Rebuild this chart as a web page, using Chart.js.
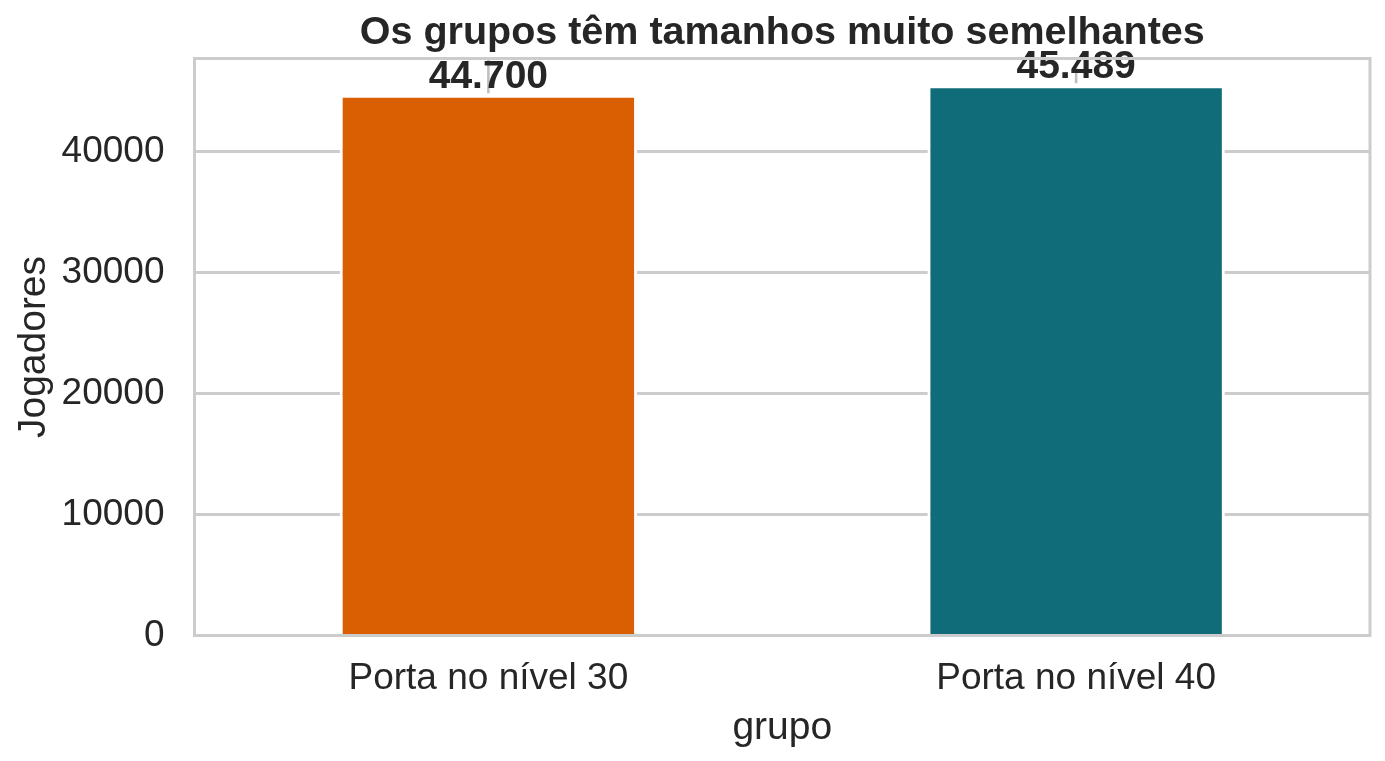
<!DOCTYPE html>
<html>
<head>
<meta charset="utf-8">
<script src="https://cdn.jsdelivr.net/npm/chart.js@4.4.1/dist/chart.umd.min.js"></script>
<style>
  html, body { margin: 0; padding: 0; background: #fff; }
  #wrap { width: 1385px; height: 761px; }
</style>
</head>
<body>
<div id="wrap"><canvas id="myChart"></canvas></div>
<script>
// data
const grupos = ['Porta no nível 30', 'Porta no nível 40'];
const jogadores = [44700, 45489];
const errLow = [44830, 45660];
const errHigh = [48000, 47310];
const yTicks = [0, 10000, 20000, 30000, 40000];
const cores = ['#d95f02', '#116c7a'];
const titulo = 'Os grupos têm tamanhos muito semelhantes';

const ink = '#262626';
const cinza = '#cccccc';
const fonte = '"Liberation Sans", Arial, sans-serif';

// pt-BR thousands: 44700 -> 44.700
function milhar(v) {
  return String(Math.round(v)).replace(/\B(?=(\d{3})+(?!\d))/g, '.');
}

// grey error line + value label above each bar
const rotulos = {
  id: 'rotulos',
  afterDatasetsDraw(chart) {
    const ctx = chart.ctx;
    const meta = chart.getDatasetMeta(0);
    const y = chart.scales.y;
    const area = chart.chartArea;
    ctx.save();
    ctx.beginPath();
    ctx.rect(area.left, area.top, area.right - area.left, area.bottom - area.top);
    ctx.clip();
    ctx.strokeStyle = '#bdbdbd';
    ctx.lineWidth = 2.5;
    meta.data.forEach((bar, i) => {
      ctx.beginPath();
      ctx.moveTo(bar.x, y.getPixelForValue(errLow[i]));
      ctx.lineTo(bar.x, y.getPixelForValue(errHigh[i]));
      ctx.stroke();
    });
    ctx.restore();

    ctx.save();
    ctx.fillStyle = ink;
    ctx.font = 'bold 39px ' + fonte;
    ctx.textAlign = 'center';
    ctx.textBaseline = 'alphabetic';
    meta.data.forEach((bar, i) => {
      ctx.fillText(milhar(jogadores[i]), bar.x, y.getPixelForValue(jogadores[i]) - 7);
    });
    ctx.restore();
  }
};

// frame round the plot and the title centred over it
const moldura = {
  id: 'moldura',
  afterDraw(chart) {
    const a = chart.chartArea;
    const ctx = chart.ctx;
    ctx.save();
    ctx.strokeStyle = cinza;
    ctx.lineWidth = 3;
    ctx.strokeRect(a.left, a.top, a.right - a.left, a.bottom - a.top);
    ctx.fillStyle = ink;
    ctx.font = 'bold 39.5px ' + fonte;
    ctx.textAlign = 'center';
    ctx.textBaseline = 'alphabetic';
    ctx.fillText(titulo, (a.left + a.right) / 2, 44);
    ctx.restore();
  }
};

Chart.defaults.font.family = fonte;
Chart.defaults.color = ink;

new Chart(document.getElementById('myChart'), {
  type: 'bar',
  data: {
    labels: grupos,
    datasets: [{
      data: jogadores,
      backgroundColor: cores,
      borderColor: '#ffffff',
      borderWidth: 3,
      borderSkipped: 'start',
      barPercentage: 0.506,
      categoryPercentage: 1.0
    }]
  },
  options: {
    responsive: true,
    maintainAspectRatio: false,
    animation: false,
    layout: { padding: { left: 0, right: 15, top: 58.5, bottom: 0 } },
    plugins: {
      legend: { display: false },
      tooltip: { enabled: false },
      title: { display: false }
    },
    scales: {
      x: {
        grid: { display: false, drawTicks: false },
        border: { display: false },
        ticks: { font: { size: 37 }, color: ink, padding: 21 },
        title: {
          display: true, text: 'grupo', color: ink,
          font: { size: 39 }, padding: { top: 0, bottom: 9 }
        },
        afterFit(scale) { scale.height = 125.5; }
      },
      y: {
        min: 0,
        max: 47700,
        afterBuildTicks(scale) {
          scale.ticks = yTicks.map(v => ({ value: v }));
        },
        grid: { color: cinza, lineWidth: 3, drawTicks: false },
        border: { display: false },
        ticks: {
          font: { size: 37 }, color: ink, padding: 30,
          callback: v => String(v)
        },
        title: {
          display: true, text: 'Jogadores', color: ink,
          font: { size: 39 }, padding: { top: 11, bottom: 0 }
        },
        afterFit(scale) { scale.width = 194.5; }
      }
    }
  },
  plugins: [rotulos, moldura]
});
</script>
</body>
</html>
